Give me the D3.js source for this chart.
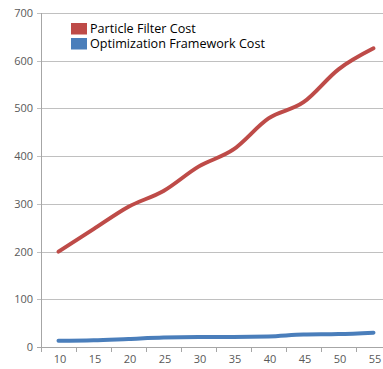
<!DOCTYPE html>
<html><head><meta charset="utf-8">
<script src="https://cdn.jsdelivr.net/npm/d3@7"></script>
<style>body{margin:0;background:#fff}svg{display:block}</style>
</head><body>
<svg id="c" width="383" height="369"></svg>
<script>
const categories = ["10","15","20","25","30","35","40","45","50","55"];
const particleFilter = [200,247,294,327,378,414,479,513,582,626];
const optimization = [13,14,17,20,21,21,22,26,27,30];
const yTicks = [0,100,200,300,400,500,600,700];
const seriesNames = ["Particle Filter Cost","Optimization Framework Cost"];
const colors = ["#BE4B48","#4A7EBB"];

(function(){
const svg = d3.select("#c");
const mLeft = 41, mTop = 13, mBottom = 347, bandW = 35;
const x = d3.scaleBand().domain(categories).range([mLeft, mLeft + bandW*categories.length]).padding(0);
const y = d3.scaleLinear().domain([0,700]).range([mBottom, mTop]);

svg.append("g").selectAll("line").data(yTicks).join("line")
  .attr("x1", mLeft-4).attr("x2", 383)
  .attr("y1", d=>Math.round(y(d))+0.5).attr("y2", d=>Math.round(y(d))+0.5)
  .attr("stroke", d=> d===0 ? "#a6a6a6" : "#c0c0c0").attr("stroke-width",1);

svg.append("line").attr("x1",mLeft+0.5).attr("x2",mLeft+0.5).attr("y1",mTop).attr("y2",mBottom+1)
  .attr("stroke","#a6a6a6");

svg.append("g").selectAll("text").data(yTicks).join("text")
  .attr("x", 33).attr("y", d=>y(d)+4)
  .attr("text-anchor","end").attr("font-family","Open Sans, sans-serif").attr("font-size",11)
  .attr("fill","#595959").text(d=>d);

const bounds = categories.map(c=>x(c)).concat([x(categories[categories.length-1])+x.bandwidth()]);
svg.append("g").selectAll("line").data(bounds.filter(b=>b<383)).join("line")
  .attr("x1", d=>Math.round(d)+0.5).attr("x2", d=>Math.round(d)+0.5)
  .attr("y1", mBottom).attr("y2", mBottom+5).attr("stroke","#a6a6a6");

svg.append("g").selectAll("text").data(categories).join("text")
  .attr("x", d=>x(d)+x.bandwidth()/2+1.5).attr("y", 363)
  .attr("text-anchor","middle").attr("font-family","Open Sans, sans-serif").attr("font-size",11)
  .attr("fill","#595959").text(d=>d);

const line = d3.line().x((d,i)=>x(categories[i])+x.bandwidth()/2).y(d=>y(d)).curve(d3.curveMonotoneX);
[particleFilter, optimization].forEach((s,i)=>{
  svg.append("path").datum(s).attr("d", line).attr("fill","none")
    .attr("stroke", colors[i]).attr("stroke-width",4).attr("stroke-linecap","round").attr("stroke-linejoin","round");
});

const lg = svg.append("g");
seriesNames.forEach((n,i)=>{
  lg.append("rect").attr("x",71).attr("y",23+i*15).attr("width",16).attr("height",11.5).attr("fill",colors[i]);
  lg.append("text").attr("x",90).attr("y",33+i*15).attr("font-family","Open Sans, sans-serif")
    .attr("font-size",12.6).attr("fill","#000").text(n);
});
})();
</script>
</body></html>
